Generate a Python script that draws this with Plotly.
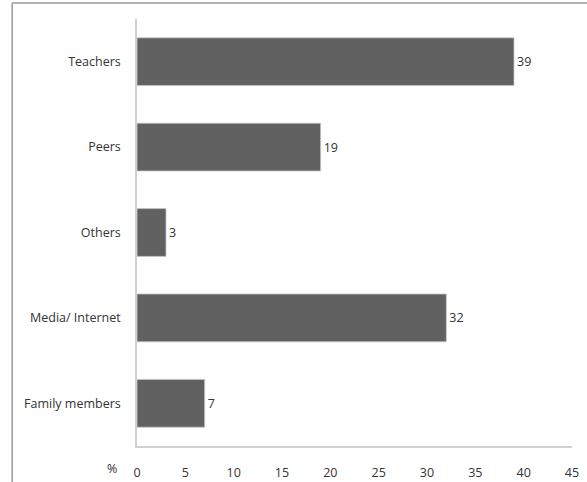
import plotly.graph_objects as go

categories = ["Teachers", "Peers", "Others", "Media/ Internet", "Family members"]
values = [39, 19, 3, 32, 7]
x_ticks = [0, 5, 10, 15, 20, 25, 30, 35, 40, 45]

font_family = "Open Sans, Liberation Sans, sans-serif"
text_color = "#333333"

fig = go.Figure(
    go.Bar(
        y=categories,
        x=values,
        orientation="h",
        marker=dict(color="#616161", line=dict(color="#c8c8c8", width=0.8)),
        text=[str(v) for v in values],
        textposition="outside",
        textfont=dict(family=font_family, size=12.5, color=text_color),
        cliponaxis=False,
        width=0.56,
    )
)

fig.update_layout(
    width=587,
    height=482,
    margin=dict(l=137, r=15, t=19, b=36),
    paper_bgcolor="white",
    plot_bgcolor="white",
    showlegend=False,
    font=dict(family=font_family, size=12.5, color=text_color),
    xaxis=dict(
        range=[0, 45],
        tickvals=x_ticks,
        ticktext=[str(t) for t in x_ticks],
        showgrid=False,
        zeroline=False,
        showline=True,
        linecolor="#d0d0d0",
        linewidth=1.5,
        ticks="",
        ticklabelstandoff=14,
        automargin=False,
        tickfont=dict(family=font_family, size=12.5, color=text_color),
        fixedrange=True,
    ),
    yaxis=dict(
        categoryorder="array",
        categoryarray=categories[::-1],
        showgrid=False,
        zeroline=False,
        showline=True,
        linecolor="#d0d0d0",
        linewidth=1.5,
        ticks="",
        ticklabelstandoff=12,
        automargin=False,
        tickfont=dict(family=font_family, size=12.5, color=text_color),
        fixedrange=True,
    ),
    annotations=[
        dict(
            text="%",
            xref="paper",
            yref="paper",
            x=-0.0575,
            y=-0.052,
            showarrow=False,
            font=dict(family=font_family, size=12.5, color=text_color),
            xanchor="center",
            yanchor="middle",
        )
    ],
    shapes=[
        dict(type="line", xref="paper", yref="paper", x0=-0.287, x1=1.2,
             y0=1.0375, y1=1.0375, line=dict(color="#9a9a9a", width=1.5)),
        dict(type="line", xref="paper", yref="paper", x0=-0.287, x1=-0.287,
             y0=1.0375, y1=-0.2, line=dict(color="#9a9a9a", width=1.5)),
    ],
)

fig.write_html("out.html")
